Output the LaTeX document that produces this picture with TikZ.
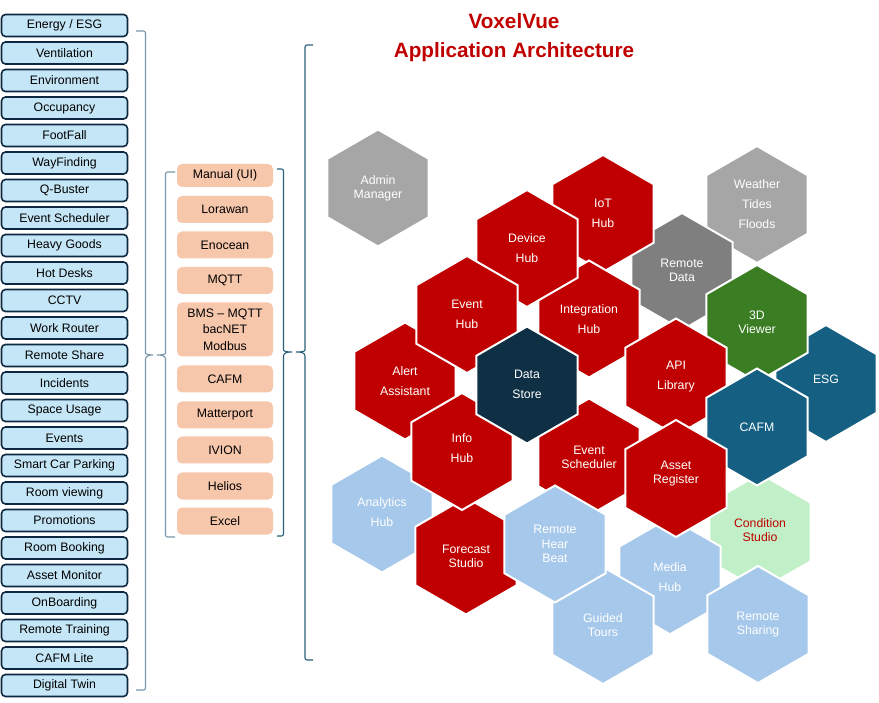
\documentclass[tikz,border=0pt]{standalone}
\usepackage{fontspec}
\setmainfont{Liberation Sans}
\definecolor{hred}{HTML}{C00000}
\definecolor{hgray}{HTML}{A6A6A6}
\definecolor{hdgray}{HTML}{7F7F7F}
\definecolor{hnavy}{HTML}{0E2F44}
\definecolor{hgreen}{HTML}{3B7D23}
\definecolor{hblue}{HTML}{156082}
\definecolor{hlblue}{HTML}{A6C8EA}
\definecolor{hlgreen}{HTML}{C1F0C8}
\definecolor{peach}{HTML}{F7C7AC}
\definecolor{lblue}{HTML}{C5E6F6}
\definecolor{navy}{HTML}{0E2841}
\definecolor{bracel}{HTML}{7896AA}
\definecolor{bracer}{HTML}{2A5F7A}
\newcommand\hexcell[7]{%
  \path[fill=#4, draw=white, line width=2pt] (#2,#3) +(90:58.5) -- +(30:58.5) -- +(-30:58.5) -- +(-90:58.5) -- +(-150:58.5) -- +(150:58.5) -- cycle;
  \node[#5] (#1) at (#2,{#3+#6}) {#7};}
\begin{document}
\begin{tikzpicture}[x=1pt,y=-1pt,
  lbox/.style={draw=navy, line width=1.6pt, fill=lblue, rounded corners=4pt,
    minimum width=126pt, minimum height=22pt, inner sep=0pt,
    font=\fontsize{12.3}{14}\selectfont},
  mbox/.style={fill=peach, rounded corners=5pt, minimum width=96pt,
    minimum height=27pt, inner sep=0pt, align=center,
    font=\fontsize{12.3}{16.5}\selectfont},
  bracestyle/.style={line width=1.1pt, rounded corners=2pt},
  htA/.style={text=white, align=center, inner sep=0pt, font=\fontsize{12.3}{20}\selectfont},
  htB/.style={text=white, align=center, inner sep=0pt, font=\fontsize{12.3}{14.2}\selectfont}]
\useasboundingbox (0,0) rectangle (879,703);

% title
\node[font=\bfseries\fontsize{20.7}{29}\selectfont, text=hred, align=center, inner sep=0pt]
  (title) at (514,37.5) {VoxelVue\\Application Architecture};

% left column
\foreach \t [count=\i from 0] in {Energy / ESG,Ventilation,Environment,Occupancy,FootFall,WayFinding,Q-Buster,Event Scheduler,Heavy Goods,Hot Desks,CCTV,Work Router,Remote Share,Incidents,Space Usage,Events,Smart Car Parking,Room viewing,Promotions,Room Booking,Asset Monitor,OnBoarding,Remote Training,CAFM Lite,Digital Twin}
  \node[lbox] (l\i) at (64.5,{25.5+27.5*\i}) {\t};

% middle column
\node[mbox, minimum height=23pt] (m1) at (225,175.5) {Manual (UI)};
\node[mbox] (m2) at (225,209.5) {Lorawan};
\node[mbox] (m3) at (225,245) {Enocean};
\node[mbox] (m4) at (225,280.5) {MQTT};
\node[mbox, minimum height=54pt] (m5) at (225,329.5) {BMS – MQTT\\bacNET\\Modbus};
\node[mbox] (m6) at (225,379) {CAFM};
\node[mbox] (m7) at (225,415) {Matterport};
\node[mbox] (m8) at (225,450) {IVION};
\node[mbox] (m9) at (225,486) {Helios};
\node[mbox] (m10) at (225,521) {Excel};

% braces
\draw[bracestyle, draw=bracel] (136,31) -- (145.5,31) -- (145.5,351)
  [sharp corners] to[out=-90,in=180] (153,355) to[out=180,in=90] (145.5,359)
  [rounded corners=2pt] -- (145.5,690) -- (136,690);
\draw[bracestyle, draw=bracel] (175,172) -- (165.5,172) -- (165.5,351)
  [sharp corners] to[out=-90,in=0] (157,355) to[out=0,in=90] (165.5,359)
  [rounded corners=2pt] -- (165.5,537) -- (175,537);
\draw[bracestyle, draw=bracer] (277,169) -- (283.5,169) -- (283.5,348)
  [sharp corners] to[out=-90,in=180] (292,352) to[out=180,in=90] (283.5,356)
  [rounded corners=2pt] -- (283.5,536) -- (277,536);
\draw[bracestyle, draw=bracer] (313,45) -- (305,45) -- (305,348)
  [sharp corners] to[out=-90,in=0] (296,352) to[out=0,in=90] (305,356)
  [rounded corners=2pt] -- (305,660) -- (313,660);

% hexagons (bottom to top)
\hexcell{weather}{757}{204.5}{hgray}{htA}{0}{Weather\\Tides\\Floods}
\hexcell{rdata}{682}{271.5}{hdgray}{htB}{-1}{Remote\\Data}
\hexcell{iot}{603}{213.5}{hred}{htA}{0}{IoT\\Hub}
\hexcell{integ}{589}{319}{hred}{htA}{0}{Integration\\Hub}
\hexcell{device}{527}{248.5}{hred}{htA}{0}{Device\\Hub}
\hexcell{alert}{405}{381}{hred}{htA}{0}{Alert\\Assistant}
\hexcell{eventhub}{467}{314.5}{hred}{htA}{0}{Event\\Hub}
\hexcell{analytics}{382}{514}{hlblue}{htA}{-2}{Analytics\\Hub}
\hexcell{forecast}{466}{556}{hred}{htB}{0}{Forecast\\Studio}
\hexcell{info}{462}{451.5}{hred}{htA}{-3}{Info\\Hub}
\hexcell{esg}{826}{383.5}{hblue}{htA}{-4}{ESG}
\hexcell{viewer}{757}{323.5}{hgreen}{htB}{-1}{3D\\Viewer}
\hexcell{api}{676}{377}{hred}{htA}{0}{API\\Library}
\hexcell{esched}{589}{457}{hred}{htB}{0}{Event\\Scheduler}
\hexcell{store}{527}{385}{hnavy}{htA}{-1}{Data\\Store}
\hexcell{cond}{760}{532}{hlgreen}{htB,text=hred}{-2}{Condition\\Studio}
\hexcell{media}{670}{575.8}{hlblue}{htA}{1}{Media\\Hub}
\hexcell{guided}{603}{625.5}{hlblue}{htB}{0}{Guided\\Tours}
\hexcell{rhb}{555}{544}{hlblue}{htB}{0}{Remote\\Hear\\Beat}
\hexcell{cafm}{757}{427}{hblue}{htA}{0}{CAFM}
\hexcell{asset}{676}{478.5}{hred}{htB}{-5}{Asset\\Register}
\hexcell{rshare}{758}{624.5}{hlblue}{htB}{0}{Remote\\Sharing}
\hexcell{admin}{378}{188}{hgray}{htB}{0}{Admin\\Manager}
\end{tikzpicture}
\end{document}
